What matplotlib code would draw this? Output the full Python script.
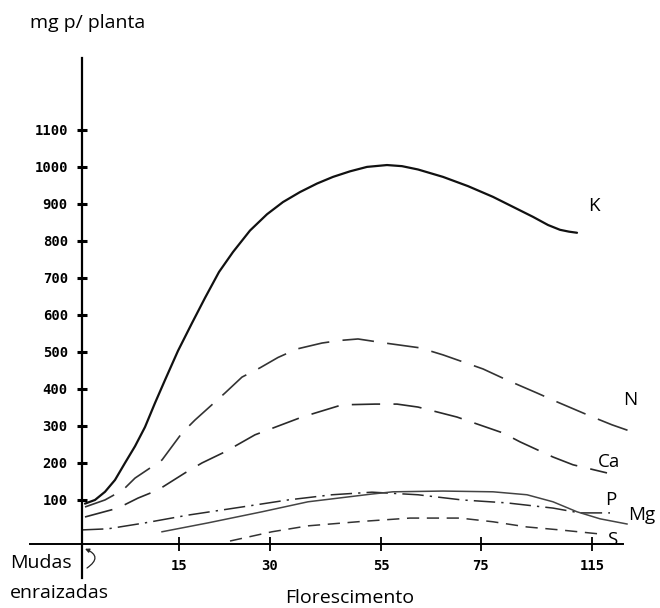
import matplotlib
matplotlib.use("Agg")
import matplotlib.pyplot as plt

# x positions are in horizontal chart units (axis ticks are unevenly spaced in the original)
tick_pos = [0.97, 1.88, 2.99, 3.99, 5.10]
tick_labels = ["15", "30", "55", "75", "115"]
y_ticks = [100, 200, 300, 400, 500, 600, 700, 800, 900, 1000, 1100]

k_x = [0.03, 0.13, 0.23, 0.33, 0.43, 0.53, 0.63, 0.73, 0.83, 0.96, 1.10, 1.23, 1.37, 1.51, 1.68, 1.85,
       2.01, 2.18, 2.35, 2.51, 2.68, 2.85, 3.05, 3.20, 3.36, 3.61, 3.86, 4.11, 4.31, 4.51, 4.66, 4.78, 4.87, 4.95]
k_y = [90, 100, 122, 154, 200, 245, 297, 362, 424, 503, 578, 646, 716, 770, 828, 872,
       905, 932, 955, 973, 988, 1000, 1005, 1002, 993, 973, 948, 919, 892, 865, 843, 830, 825, 822]

n_x = [0.03, 0.23, 0.41, 0.53, 0.80, 1.00, 1.13, 1.43, 1.60, 1.78, 1.96, 2.15, 2.40, 2.58, 2.76, 3.03,
       3.38, 3.61, 4.01, 4.25, 4.55, 4.75, 5.08, 5.30, 5.48]
n_y = [81, 100, 127, 159, 208, 281, 316, 389, 432, 457, 485, 508, 524, 531, 535, 524,
       511, 492, 454, 424, 389, 365, 327, 303, 286]

ca_x = [0.03, 0.36, 0.56, 0.76, 1.03, 1.20, 1.43, 1.73, 2.20, 2.60, 2.93, 3.15, 3.36, 3.75, 4.21, 4.38,
        4.71, 4.91, 5.25]
ca_y = [54, 78, 105, 127, 173, 200, 230, 276, 324, 357, 359, 359, 351, 324, 281, 257,
        216, 195, 173]

p_x = [0.0, 0.26, 0.63, 1.06, 1.60, 2.06, 2.50, 2.90, 3.36, 3.80, 4.25, 4.71, 4.98, 5.28]
p_y = [19, 22, 38, 59, 81, 100, 114, 121, 114, 100, 92, 78, 65, 65]

mg_x = [0.80, 1.26, 1.80, 2.26, 2.90, 3.11, 3.61, 4.11, 4.45, 4.71, 4.95, 5.18, 5.45]
mg_y = [14, 38, 68, 95, 116, 122, 124, 122, 114, 95, 68, 49, 35]

s_x = [1.48, 1.90, 2.26, 2.80, 3.28, 3.78, 4.11, 4.45, 4.78, 5.18]
s_y = [-11, 14, 30, 42, 51, 51, 41, 27, 19, 8]

labels = ["K", "N", "Ca", "P", "Mg", "S"]
label_x = [5.06, 5.41, 5.16, 5.23, 5.46, 5.25]
label_y = [895, 370, 203, 100, 59, -8]

plt.rcParams["font.family"] = ["Open Sans", "DejaVu Sans"]

fig = plt.figure(figsize=(6.6, 6.08), dpi=100)
ax = fig.add_axes([0, 0, 1, 1])
ax.set_xlim(-0.82, 5.78)
ax.set_ylim(-192, 1451)
ax.patch.set_alpha(0)

for s in ["top", "right"]:
    ax.spines[s].set_visible(False)
ax.spines["left"].set_position(("data", 0))
ax.spines["left"].set_bounds(-111, 1295)
ax.spines["left"].set_linewidth(1.6)
ax.spines["bottom"].set_position(("data", -18))
ax.spines["bottom"].set_bounds(-0.52, 5.41)
ax.spines["bottom"].set_linewidth(1.4)

mono = {"family": "DejaVu Sans Mono", "weight": "bold", "size": 10}
ax.set_yticks(y_ticks)
ax.set_yticklabels([str(v) for v in y_ticks], fontdict=mono)
ax.set_xticks(tick_pos)
ax.set_xticklabels(tick_labels, fontdict=mono)
ax.tick_params(axis="y", direction="inout", length=6.5, width=2.2, pad=7)
ax.tick_params(axis="x", direction="inout", length=9.5, width=1.3, pad=6)

ax.plot(k_x, k_y, color="#111111", lw=1.6, solid_capstyle="round", solid_joinstyle="round")
ax.plot(n_x, n_y, color="#333333", lw=1.2, dashes=(19, 8))
ax.plot(ca_x, ca_y, color="#2a2a2a", lw=1.2, dashes=(17, 8))
ax.plot(p_x, p_y, color="#2a2a2a", lw=1.1, dashes=(14, 4, 1.5, 4))
ax.plot(mg_x, mg_y, color="#444444", lw=1.1)
ax.plot(s_x, s_y, color="#333333", lw=1.1, dashes=(8, 5))

for t, lx, ly in zip(labels, label_x, label_y):
    ax.text(lx, ly, t, fontsize=13.5, ha="left", va="center")

ax.text(-0.52, 1390, "mg p/ planta", fontsize=14, ha="left", va="center")
ax.text(-0.72, -70, "Mudas", fontsize=14, ha="left", va="center")
ax.text(-0.72, -151, "enraizadas", fontsize=14, ha="left", va="center")
ax.text(2.03, -165, "Florescimento", fontsize=14, ha="left", va="center")

ax.annotate("", xy=(0.03, -32), xytext=(0.05, -84),
            arrowprops=dict(arrowstyle="-|>", lw=0.9, color="#222222",
                            mutation_scale=6, shrinkA=0, shrinkB=0,
                            connectionstyle="arc3,rad=0.9"))

fig.savefig("out.png", dpi=100)
